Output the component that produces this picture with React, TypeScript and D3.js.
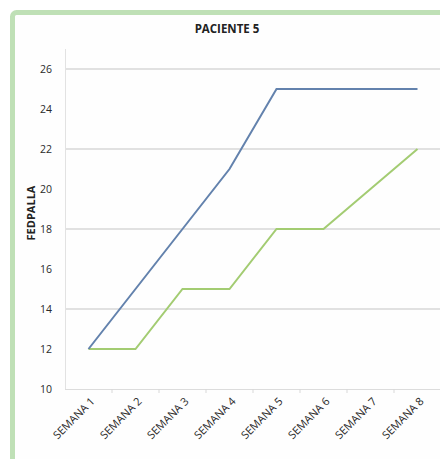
import React, { useEffect, useRef } from 'react';
import * as d3 from 'd3';

const weeks = ['SEMANA 1', 'SEMANA 2', 'SEMANA 3', 'SEMANA 4', 'SEMANA 5', 'SEMANA 6', 'SEMANA 7', 'SEMANA 8'];
const blueSeries = [12, 15, 18, 21, 25, 25, 25, 25];
const greenSeries = [12, 12, 15, 15, 18, 18, 20, 22];
const yTicks = [10, 12, 14, 16, 18, 20, 22, 24, 26];
const gridValues = [14, 18, 22, 26];

const W = 440;
const H = 459;

export default function App() {
    const svgRef = useRef<SVGSVGElement>(null);

    useEffect(() => {
        if (!svgRef.current) return;
        const svg = d3.select(svgRef.current);
        svg.selectAll('*').remove();

        const left = 65, right = 441, top = 49, bottom = 389;
        const font = '"Open Sans", "Liberation Sans", sans-serif';

        // outer frame
        svg.append('rect').attr('width', W).attr('height', H).attr('fill', '#fff');
        svg.append('rect')
            .attr('x', 12.5).attr('y', 12.5)
            .attr('width', 470).attr('height', 480)
            .attr('rx', 4)
            .attr('fill', '#fefefe')
            .attr('stroke', '#bfe0b6')
            .attr('stroke-width', 5);

        const x = d3.scaleBand().domain(weeks).range([left, right]);
        const y = d3.scaleLinear().domain([10, 26]).range([bottom, 69]);

        // gridlines
        svg.append('g')
            .selectAll('line')
            .data(gridValues)
            .enter()
            .append('line')
            .attr('x1', left).attr('x2', W)
            .attr('y1', d => y(d)).attr('y2', d => y(d))
            .attr('stroke', '#c4c4c4')
            .attr('stroke-width', 1);

        // axes lines
        svg.append('line')
            .attr('x1', left + 0.5).attr('x2', left + 0.5)
            .attr('y1', top).attr('y2', bottom)
            .attr('stroke', '#e2e2e2');
        svg.append('line')
            .attr('x1', left).attr('x2', W)
            .attr('y1', bottom + 0.5).attr('y2', bottom + 0.5)
            .attr('stroke', '#dcdcdc');

        // x tick marks between categories
        svg.append('g')
            .selectAll('line')
            .data(weeks.slice(1))
            .enter()
            .append('line')
            .attr('x1', d => x(d)!).attr('x2', d => x(d)!)
            .attr('y1', bottom).attr('y2', bottom + 4)
            .attr('stroke', '#d8d8d8');

        // y labels
        svg.append('g')
            .selectAll('text')
            .data(yTicks)
            .enter()
            .append('text')
            .attr('x', 52)
            .attr('y', d => y(d) + 4)
            .attr('text-anchor', 'end')
            .attr('font-family', font)
            .attr('font-size', 10.5)
            .attr('fill', '#2a2a2a')
            .text(d => d);

        // x labels
        svg.append('g')
            .selectAll('text')
            .data(weeks)
            .enter()
            .append('text')
            .attr('transform', d => `translate(${x(d)! + x.bandwidth() / 2 + 7},${bottom + 13}) rotate(-45)`)
            .attr('text-anchor', 'end')
            .attr('font-family', font)
            .attr('font-size', 11)
            .attr('fill', '#2a2a2a')
            .text(d => d);

        const line = d3.line<number>()
            .x((_, i) => x(weeks[i])! + x.bandwidth() / 2)
            .y(d => y(d));

        svg.append('path')
            .datum(greenSeries)
            .attr('d', line)
            .attr('fill', 'none')
            .attr('stroke', '#a3cc72')
            .attr('stroke-width', 2);

        svg.append('path')
            .datum(blueSeries)
            .attr('d', line)
            .attr('fill', 'none')
            .attr('stroke', '#6382ad')
            .attr('stroke-width', 2);

        // titles
        svg.append('text')
            .attr('x', 227).attr('y', 33)
            .attr('text-anchor', 'middle')
            .attr('font-family', font)
            .attr('font-size', 11.5)
            .attr('font-weight', 'bold')
            .attr('fill', '#222')
            .text('PACIENTE 5');

        svg.append('text')
            .attr('transform', 'translate(35,213) rotate(-90)')
            .attr('text-anchor', 'middle')
            .attr('font-family', font)
            .attr('font-size', 11)
            .attr('font-weight', 'bold')
            .attr('fill', '#222')
            .text('FEDPALLA');
    }, []);

    return (
        <svg ref={svgRef} width={W} height={H} style={{ position: 'absolute', left: 0, top: 0, display: 'block' }}></svg>
    );
}
